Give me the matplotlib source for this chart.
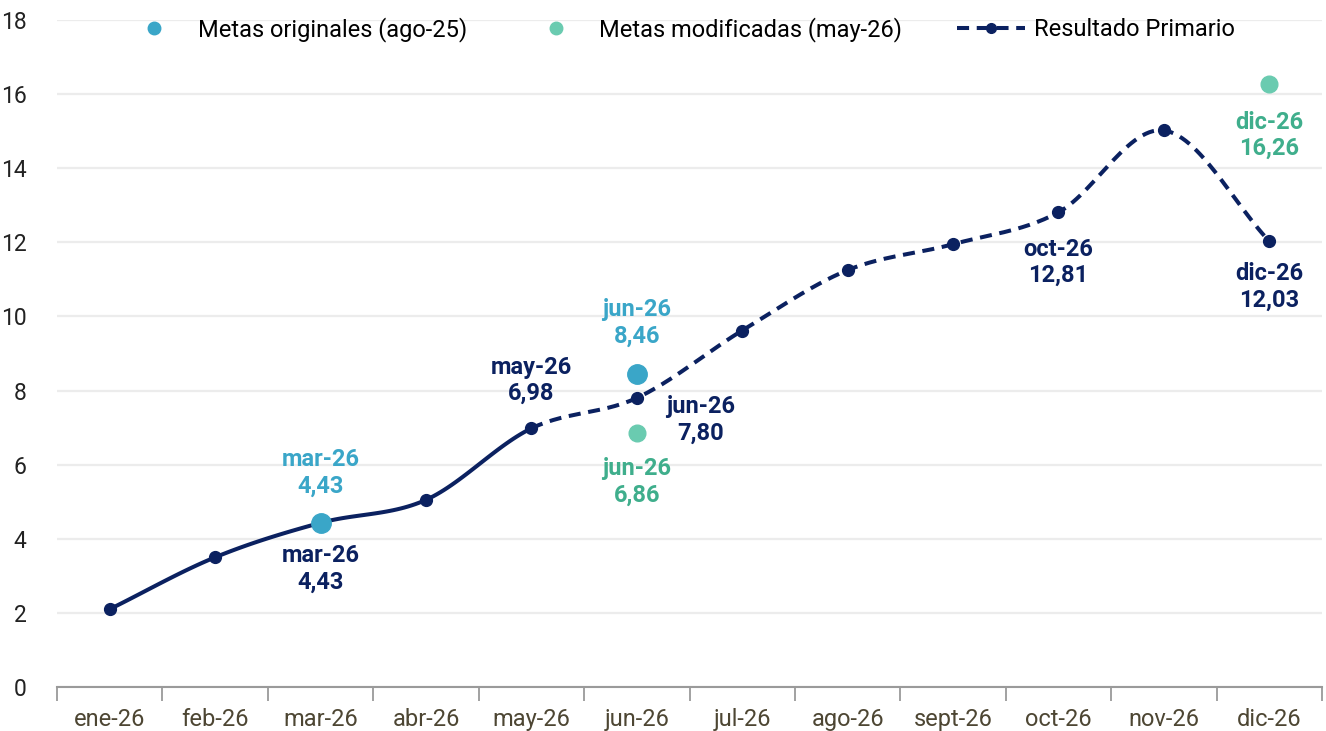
import numpy as np
import matplotlib.pyplot as plt
from matplotlib.lines import Line2D

plt.rcParams['font.family'] = ['Roboto', 'DejaVu Sans']

meses = ['ene-26', 'feb-26', 'mar-26', 'abr-26', 'may-26', 'jun-26',
         'jul-26', 'ago-26', 'sept-26', 'oct-26', 'nov-26', 'dic-26']
resultado = [2.10, 3.50, 4.43, 5.05, 6.98, 7.80, 9.62, 11.25, 11.95, 12.81, 15.02, 12.03]
orig_meses = ['mar-26', 'jun-26']
orig_vals = [4.43, 8.46]
mod_meses = ['jun-26', 'dic-26']
mod_vals = [6.86, 16.26]

navy = '#0b2160'
c_orig = '#3aa6c8'
c_orig_txt = '#3aa6c8'
c_mod = '#6acbb0'
c_mod_txt = '#3fae8c'


def catmull(xs, ys, n=30):
    # curva suavizada tipo excel
    xs = np.asarray(xs, float)
    ys = np.asarray(ys, float)
    px = np.concatenate([[2 * xs[0] - xs[1]], xs, [2 * xs[-1] - xs[-2]]])
    py = np.concatenate([[2 * ys[0] - ys[1]], ys, [2 * ys[-1] - ys[-2]]])
    segs = []
    for i in range(1, len(px) - 2):
        t = np.linspace(0, 1, n)
        p0, p1, p2, p3 = px[i-1], px[i], px[i+1], px[i+2]
        q0, q1, q2, q3 = py[i-1], py[i], py[i+1], py[i+2]
        b0, b1 = p1, p1 + (p2 - p0) / 6
        b2, b3 = p2 - (p3 - p1) / 6, p2
        c0, c1 = q1, q1 + (q2 - q0) / 6
        c2, c3 = q2 - (q3 - q1) / 6, q2
        bx = (1-t)**3*b0 + 3*(1-t)**2*t*b1 + 3*(1-t)*t**2*b2 + t**3*b3
        by = (1-t)**3*c0 + 3*(1-t)**2*t*c1 + 3*(1-t)*t**2*c2 + t**3*c3
        segs.append((bx, by))
    return segs


fig = plt.figure(figsize=(13.26, 7.31), dpi=100)
ax = fig.add_axes([57/1326, 44/731, 1265/1326, 667/731])

x = np.arange(len(meses))
segs = catmull(x, resultado)
sx = np.concatenate([s[0] for s in segs[:4]])
sy = np.concatenate([s[1] for s in segs[:4]])
dx = np.concatenate([s[0] for s in segs[4:]])
dy = np.concatenate([s[1] for s in segs[4:]])
ax.plot(sx, sy, color=navy, lw=2.9, solid_capstyle='round', zorder=3)
ax.plot(dx, dy, color=navy, lw=2.9, ls=(0, (3, 1.9)), zorder=3)
ax.plot(x, resultado, 'o', color=navy, ms=8.5, zorder=4)

xo = [meses.index(m) for m in orig_meses]
xm = [meses.index(m) for m in mod_meses]
ax.plot(xo, orig_vals, 'o', color=c_orig, ms=14, zorder=5)
ax.plot(xm, mod_vals, 'o', color=c_mod, ms=12, zorder=5)


def etiqueta(i, v, color, dx, dy):
    ax.annotate(f'{meses[i]}\n{v:.2f}'.replace('.', ','), (i, v),
                xytext=(dx, dy), textcoords='offset pixels',
                ha='center', va='center', color=color, fontsize=17,
                fontweight='bold', linespacing=1.2, zorder=6)


etiqueta(2, resultado[2], navy, 0, -46)
etiqueta(4, resultado[4], navy, 0, 48)
etiqueta(5, resultado[5], navy, 64, -22)
etiqueta(9, resultado[9], navy, 0, -50)
etiqueta(11, resultado[11], navy, 0, -46)
etiqueta(xo[0], orig_vals[0], c_orig_txt, 0, 50)
etiqueta(xo[1], orig_vals[1], c_orig_txt, 0, 51)
etiqueta(xm[0], mod_vals[0], c_mod_txt, 0, -49)
etiqueta(xm[1], mod_vals[1], c_mod_txt, 0, -51)

ax.set_xlim(-0.5, len(meses) - 0.5)
ax.set_ylim(0, 18)
ax.set_yticks(range(0, 19, 2))
ax.set_xticks(x)
ax.set_xticklabels(meses, fontsize=17, color='#4d4633')
ax.set_xticks(np.arange(-0.5, len(meses), 1), minor=True)
ax.tick_params(axis='x', which='major', length=0, pad=15)
ax.tick_params(axis='x', which='minor', length=10, width=1.3, color='#9a9a9a')
ax.tick_params(axis='y', length=0, labelsize=16.5, labelcolor='#222222', pad=22)
ax.grid(axis='y', color='#ececec', lw=1.6)
ax.set_axisbelow(True)
for s in ['top', 'right', 'left']:
    ax.spines[s].set_visible(False)
ax.spines['bottom'].set_color('#9a9a9a')
ax.spines['bottom'].set_linewidth(1.5)

handles = [
    Line2D([], [], ls='none', marker='o', color=c_orig, ms=9),
    Line2D([], [], ls='none', marker='o', color=c_mod, ms=9),
    Line2D([], [], color=navy, lw=2.9, ls=(0, (3, 1.9)), marker='o', ms=7),
]
fig.legend(handles, ['Metas originales (ago-25)', 'Metas modificadas (may-26)', 'Resultado Primario'],
           loc='center', bbox_to_anchor=(0.511, 0.960), ncol=3, frameon=False,
           fontsize=17, columnspacing=2.3, handlelength=2.9, handletextpad=0.4)

fig.savefig('out.png', dpi=100)
